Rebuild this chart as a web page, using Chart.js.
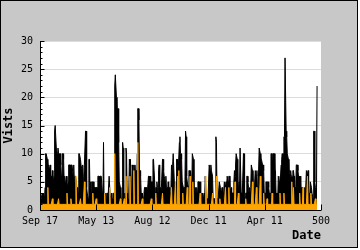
<!DOCTYPE html>
<html>
<head>
<meta charset="utf-8">
<script src="https://cdn.jsdelivr.net/npm/chart.js@4"></script>
<style>
  body { margin: 0; background: #fff; }
  #wrap { position: absolute; left: 0; top: 0; width: 356px; height: 246px; border: 1px solid #000; background: #c8c8c8; }
  #chart { position: absolute; left: 0; top: 0; }
</style>
</head>
<body>
<div id="wrap"></div>
<canvas id="chart" width="360" height="250"></canvas>
<script>
// tick labels on the index axis (every 100 points)
const xTickLabels = ['Sep 17', 'May 13', 'Aug 12', 'Dec 11', 'Apr 11', '500'];

// black series - visits per point
const visits = [
  1,2,2,2,3,2,3,3,2,4,
  10,10,10,9,8,8,8,7,8,6,
  6,5,7,5,5,6,14,15,15,11,
  11,10,11,10,10,9,10,8,6,5,
  10,10,9,5,6,5,4,6,5,4,
  5,8,8,8,8,7,8,8,8,6,
  8,5,6,6,6,5,3,4,3,10,
  10,10,9,8,8,7,8,5,6,8,
  8,14,14,4,3,3,2,9,9,3,
  5,3,5,5,4,5,3,4,4,3,
  4,4,4,6,6,6,5,6,6,6,
  6,3,2,12,2,3,2,3,2,3,
  3,2,2,6,6,2,2,3,2,2,
  2,3,3,22,24,24,20,18,18,18,
  12,5,5,4,2,2,2,12,11,2,
  2,3,2,11,10,3,2,2,3,9,
  8,9,3,2,8,7,3,8,7,8,
  6,7,3,10,18,18,16,7,7,6,
  3,2,3,3,2,3,4,4,3,4,
  3,3,3,6,6,3,6,5,5,4,
  5,9,9,7,7,3,4,4,5,4,
  3,7,8,4,4,3,4,4,9,9,
  7,6,6,5,6,4,4,3,5,4,
  4,3,3,4,8,7,8,10,10,5,
  5,4,5,9,9,8,7,7,12,13,
  10,10,9,5,5,4,3,4,6,14,
  13,6,5,5,4,7,7,6,7,5,
  3,10,10,9,4,4,3,4,3,4,
  3,5,5,5,4,5,2,3,2,3,
  3,2,3,2,6,6,2,2,2,2,
  2,8,8,7,8,7,7,6,2,2,
  2,2,2,13,12,2,2,2,2,5,
  5,4,4,3,4,2,2,2,5,5,
  4,5,4,6,6,5,6,6,4,3,
  4,3,3,3,3,5,7,6,8,10,
  10,9,5,4,5,3,11,11,3,3,
  3,3,10,10,3,2,3,3,6,6,
  5,4,3,4,3,4,8,8,7,5,
  5,4,5,7,7,6,7,3,3,3,
  11,11,10,9,9,9,8,8,7,3,
  2,3,5,5,4,5,5,4,3,2,
  3,10,10,9,10,10,10,10,7,7,
  3,2,3,2,6,6,5,6,6,8,
  9,10,9,10,13,13,27,27,14,13,
  10,10,9,7,7,6,7,6,6,6,
  7,7,6,4,4,3,8,8,8,7,
  6,6,5,6,4,4,3,4,4,4,
  3,4,2,2,7,7,6,7,3,3,
  2,5,5,4,3,3,2,14,14,5,
  4,4,3,22
];

// orange series - drawn over the black one
const unique = [
  1,1,1,1,1,1,1,1,1,1,
  1,1,1,1,4,1,1,1,1,1,
  1,1,2,1,1,1,1,1,1,1,
  1,1,1,2,1,1,1,1,1,1,
  1,1,1,1,1,1,1,1,3,1,
  1,1,1,1,1,2,1,1,1,1,
  1,1,1,1,6,1,1,1,1,1,
  1,1,2,1,1,1,1,1,1,5,
  1,1,1,1,1,1,1,1,1,1,
  1,1,1,1,3,1,1,1,1,1,
  2,1,1,1,1,1,1,1,1,1,
  1,1,1,1,1,3,1,1,1,1,
  1,1,1,1,4,1,1,1,1,1,
  1,1,1,10,1,1,1,1,1,1,
  1,1,1,2,1,1,1,1,1,1,
  2,1,1,6,1,1,1,1,1,1,
  6,1,1,1,1,1,1,7,1,1,
  1,1,1,1,12,1,1,1,1,1,
  1,1,2,1,1,1,1,1,1,1,
  1,1,1,1,1,1,1,1,2,1,
  1,1,1,1,1,1,3,1,1,1,
  1,1,1,1,1,1,1,1,3,1,
  1,1,1,1,1,1,1,1,1,1,
  1,1,1,1,4,1,1,1,1,1,
  1,5,1,1,1,6,1,7,1,1,
  1,1,1,1,3,1,1,1,1,1,
  1,1,4,1,1,1,1,6,1,1,
  1,1,5,1,1,1,1,1,1,1,
  1,1,1,1,1,3,1,1,1,1,
  1,1,1,1,1,6,1,1,1,1,
  1,1,1,1,1,1,1,3,1,1,
  1,1,1,1,6,1,1,1,1,1,
  2,1,1,1,1,1,1,1,1,1,
  4,1,1,1,1,1,4,1,1,1,
  1,1,1,1,1,1,1,5,1,1,
  1,1,1,3,1,1,1,1,1,1,
  1,1,1,1,1,1,2,1,1,1,
  1,1,1,1,1,1,1,1,5,1,
  1,1,1,1,1,4,1,1,1,1,
  1,1,6,1,1,1,1,1,3,1,
  1,1,1,1,2,1,1,1,1,1,
  1,1,1,3,1,1,1,1,1,1,
  1,1,1,1,1,1,1,3,1,1,
  1,1,1,1,3,1,1,1,1,1,
  1,1,1,1,1,1,1,1,5,1,
  1,4,1,1,1,1,1,1,1,1,
  1,1,3,1,1,1,1,1,4,1,
  1,1,1,1,1,1,6,1,1,1,
  1,1,3,1,1,1,1,1,1,1,
  2,1,1,1
];

const pointIndex = visits.map((v, i) => i);

const mono = '"DejaVu Sans Mono", monospace';

// white plot area, then black axis lines and inner tick marks on top of the data
const frame = {
  id: 'frame',
  beforeDraw(chart) {
    const { ctx, chartArea: a } = chart;
    ctx.save();
    ctx.fillStyle = '#fff';
    ctx.fillRect(a.left, a.top, a.right - a.left, a.bottom - a.top);
    ctx.restore();
  },
  afterDatasetsDraw(chart) {
    const { ctx, chartArea: a } = chart;
    const xs = chart.scales.x, ys = chart.scales.y;
    const L = Math.round(a.left) + 0.5, B = Math.round(a.bottom) + 0.5;
    ctx.save();
    ctx.strokeStyle = '#000';
    ctx.lineWidth = 1;
    ctx.beginPath();
    ctx.moveTo(L, a.top);
    ctx.lineTo(L, B);
    ctx.lineTo(a.right, B);
    for (let v = ys.min; v <= ys.max; v++) {
      const y = Math.round(ys.getPixelForValue(v)) + 0.5;
      ctx.moveTo(L, y);
      ctx.lineTo(L + (v % 5 === 0 ? 4 : 2), y);
    }
    xs.ticks.forEach(t => {
      const x = Math.round(xs.getPixelForValue(t.value)) + 0.5;
      ctx.moveTo(x, B);
      ctx.lineTo(x, B - 6);
    });
    ctx.stroke();
    ctx.restore();
  }
};

new Chart(document.getElementById('chart'), {
  type: 'line',
  data: {
    labels: pointIndex,
    datasets: [
      {
        label: 'Unique',
        data: unique,
        borderColor: '#ffa500',
        backgroundColor: '#ffa500',
        borderWidth: 1,
        fill: 'origin',
        pointRadius: 0,
        tension: 0
      },
      {
        label: 'Visits',
        data: visits,
        borderColor: '#000',
        backgroundColor: '#000',
        borderWidth: 1,
        fill: 'origin',
        pointRadius: 0,
        tension: 0
      }
    ]
  },
  options: {
    responsive: false,
    animation: false,
    devicePixelRatio: 1,
    layout: { padding: { left: 0, top: 41, right: 39, bottom: 0 } },
    plugins: { legend: { display: false }, tooltip: { enabled: false } },
    scales: {
      x: {
        type: 'linear',
        min: 0,
        max: 500,
        afterFit: s => { s.height = 40; },
        grid: { display: false, drawTicks: false },
        border: { display: false },
        ticks: {
          stepSize: 100,
          autoSkip: false,
          maxRotation: 0,
          padding: 5,
          color: '#000',
          font: { family: mono, size: 10 },
          callback: v => xTickLabels[v / 100]
        },
        title: {
          display: true,
          text: 'Date',
          align: 'end',
          color: '#000',
          font: { family: mono, size: 12, weight: 'bold' },
          padding: { top: 0, bottom: 7 }
        }
      },
      y: {
        min: 0,
        max: 30,
        afterFit: s => { s.width = 40; },
        grid: {
          drawTicks: false,
          color: c => (c.tick && c.tick.value === 0 ? 'rgba(0,0,0,0)' : '#dcdcdc')
        },
        border: { display: false },
        ticks: {
          stepSize: 5,
          padding: 7,
          color: '#000',
          font: { family: mono, size: 10 }
        },
        title: {
          display: true,
          text: 'Vists',
          color: '#000',
          font: { family: mono, size: 12, weight: 'bold' },
          padding: { top: 2, bottom: 0 }
        }
      }
    }
  },
  plugins: [frame]
});
</script>
</body>
</html>
